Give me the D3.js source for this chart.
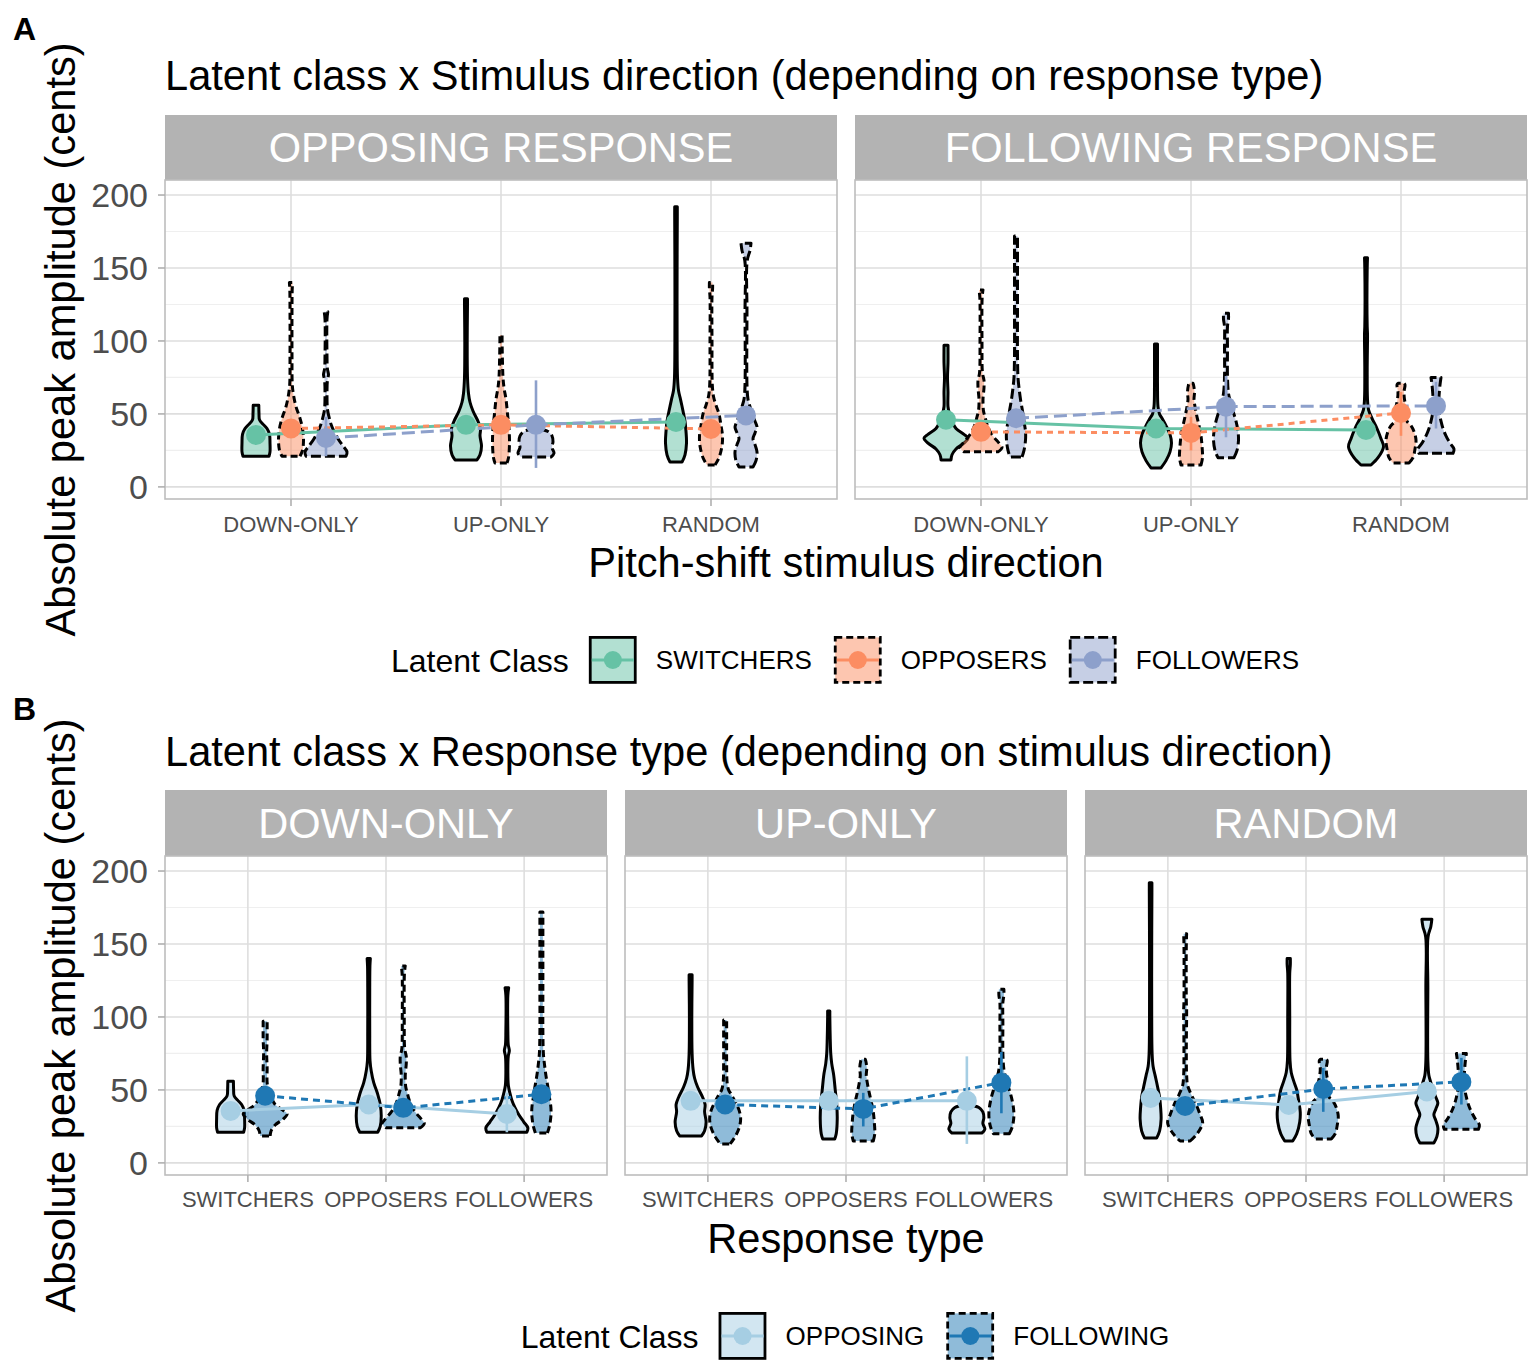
<!DOCTYPE html>
<html>
  <head>
    <meta charset="utf-8" />
    <style>
      body { margin: 0; background: #fff; }
      text { font-family: "Liberation Sans", Arial, Helvetica, sans-serif; }
    </style>
  </head>
  <body>

<svg id="graph"></svg>

<script src="https://d3js.org/d3.v7.min.js"></script>
<script>
  const WIDTH = 1537;
  const HEIGHT = 1367;

  const directions = ['DOWN-ONLY', 'UP-ONLY', 'RANDOM'];
  const classes = ['SWITCHERS', 'OPPOSERS', 'FOLLOWERS'];
  const responses = ['OPPOSING', 'FOLLOWING'];
  const yTicks = [0, 50, 100, 150, 200];
  const yMinor = [25, 75, 125, 175];

  // means, rows = direction, columns = class
  const meanOpposing = [[35.6, 40, 33.5], [42.5, 42.5, 42.5], [44.5, 39.7, 49]];
  const meanFollowing = [[46, 37.7, 47], [40, 37, 55], [39, 50.6, 55.5]];
  const lowOpposing = [[32, 36, 21], [38, 37, 13], [40, 35, 44]];
  const highOpposing = [[39, 44, 48], [47, 48, 73], [49, 45, 54]];
  const lowFollowing = [[42, 33, 41], [36, 25, 34], [35, 35, 40]];
  const highFollowing = [[50, 42, 53], [44, 48, 76], [43, 65, 72]];

  // violin outlines: [amplitude, density]  (rows = direction, columns = class)
  const violinOpposing = [
    [
      [[21,13],[24,14],[30,14],[36,13.5],[40,11],[43,7],[46,3.5],[50,3],[56,2.8]],
      [[21,9],[25,11.5],[32,12.5],[40,11.5],[47,9],[55,5],[63,2.5],[70,1.3],[90,1],[120,1],[135,1.2],[140,1.6]],
      [[21,20],[24,21],[28,17],[33,12],[38,8],[43,5],[48,3],[53,1.5],[62,1],[73,1.4],[77,2.5],[81,1.4],[90,1],[115,1],[120,1.8]]
    ],
    [
      [[18.5,11],[22,14],[28,15.5],[35,14],[40,14.5],[45,12],[52,7],[58,4],[64,2.5],[75,1.5],[100,1.2],[125,1.5],[129,1.5]],
      [[16.4,6],[20,7.5],[30,8.5],[40,8],[50,6.5],[60,5],[68,3],[75,2],[85,1.5],[100,1.1],[104,1.1]],
      [[20.5,15],[23,18],[27,16],[31,17],[35,16],[38,12],[39.5,5],[40.5,2]]
    ],
    [
      [[17,6],[22,9],[30,10.5],[38,10],[45,9],[52,7],[60,4.5],[66,2.5],[75,1.5],[100,1.1],[150,1.1],[185,1.3],[192,1.3]],
      [[15,4],[20,8],[28,11],[35,11.5],[42,10],[50,8],[56,5],[62,2.5],[70,1.3],[100,1],[130,1],[136,1.6],[140,1.6]],
      [[13.7,7],[18,10],[24,11],[29,9],[33,7],[37,9],[41,11],[45,9],[50,6],[55,4],[60,2],[70,1],[120,1],[155,1.2],[162,4],[167,5]]
    ]
  ];
  const violinFollowing = [
    [
      [[18.5,5],[22,6],[26,10],[30,18],[33.5,22],[36,18],[40,10],[45,6],[50,3.5],[55,2],[65,2],[75,1.5],[85,2],[95,2],[97,2]],
      [[24,17],[27,21],[30,18],[34,13],[38,9],[43,6],[48,4],[52,2.5],[60,2],[68,3],[73,3],[78,1.5],[100,1],[130,1.2],[135,2]],
      [[20.5,6],[25,8],[32,9.5],[38,9.5],[45,8],[52,6.5],[60,4.5],[68,3],[75,2],[90,1.5],[120,1.5],[150,1.5],[172,1.5]]
    ],
    [
      [[13,5],[18,10],[24,14],[30,15.5],[36,14],[42,10],[47,6],[50,3.5],[55,2],[70,1.5],[85,1.5],[98,1.5]],
      [[15,10],[20,11.5],[28,11],[35,10],[42,8],[48,6],[55,4],[60,3],[65,3.5],[70,2.5],[71,2]],
      [[20,8],[25,11],[32,12.5],[38,12],[45,10],[52,7],[58,4.5],[64,2.5],[75,1.5],[95,1.5],[110,1.5],[115,2.5],[119,2.5]]
    ],
    [
      [[15,5],[20,12],[27.5,17.5],[33,15],[40,11],[47,6],[53,2.5],[60,1.5],[80,1.2],[100,1.5],[105,1.5],[110,1.2],[150,1.2],[157,1.5]],
      [[16.4,8],[20,12],[26,14],[32,15],[38,13],[42,10],[45,6],[48,5],[52,6],[55,5],[60,3.5],[65,3],[70,4],[71,3]],
      [[23,17],[26,18],[30,14],[35,10],[40,7],[45,5],[50,3.5],[56,2.5],[62,3],[70,4],[75,5]]
    ]
  ];

  const classColors = ['#66C2A5', '#FC8D62', '#8DA0CB'];
  const responseColors = ['#A6CEE3', '#1F78B4'];

  const mean = [meanOpposing, meanFollowing];
  const low = [lowOpposing, lowFollowing];
  const high = [highOpposing, highFollowing];
  const violin = [violinOpposing, violinFollowing];

  const svg = d3.select('#graph').attr('width', WIDTH).attr('height', HEIGHT);
  svg.append('rect').attr('width', WIDTH).attr('height', HEIGHT).attr('fill', '#fff');

  const LEFT = 165, RIGHT = 1527, GAP = 18;
  const BIG = 41.6;
  const width = d3.scaleLinear().domain([0, 22]).range([0, 22]);

  const rows = [
    {
      label: 'A', labelY: 40, titleY: 90, stripTop: 115, panelTop: 180, panelBottom: 499,
      tickY: 532, xTitleY: 577, legendY: 660,
      title: 'Latent class x Stimulus direction (depending on response type)',
      xTitle: 'Pitch-shift stimulus direction',
      facets: responses.map(r => r + ' RESPONSE'), xCats: directions, groups: classes,
      cell: (f, x, g) => [f, x, g],
      colors: classColors,
      violinDash: [null, '7,4', '10,4'],
      lineDash: [null, '6,5', '13,6'],
      legend: classes
    },
    {
      label: 'B', labelY: 720, titleY: 766, stripTop: 790, panelTop: 856, panelBottom: 1175,
      tickY: 1207, xTitleY: 1253, legendY: 1336,
      title: 'Latent class x Response type (depending on stimulus direction)',
      xTitle: 'Response type',
      facets: directions, xCats: classes, groups: responses,
      cell: (f, x, g) => [g, f, x],
      colors: responseColors,
      violinDash: [null, '7,4'],
      lineDash: [null, '7,5'],
      legend: responses
    }
  ];

  function drawRow(row) {
    const n = row.facets.length;
    const pw = (RIGHT - LEFT - GAP * (n - 1)) / n;
    const y = d3.scaleLinear().domain([-8.3, 210.3]).range([row.panelBottom, row.panelTop]);

    svg.append('text').attr('x', 13).attr('y', row.labelY)
      .attr('font-size', 32).attr('font-weight', 'bold').text(row.label);
    svg.append('text').attr('x', LEFT).attr('y', row.titleY)
      .attr('font-size', BIG).attr('fill', '#000').text(row.title);

    row.facets.forEach((facet, fi) => {
      const x0 = LEFT + fi * (pw + GAP);
      const x = d3.scalePoint().domain(row.xCats).range([x0, x0 + pw]).padding(0.6);
      const dodge = d3.scaleBand().domain(row.groups)
        .range([-0.25 * x.step(), 0.25 * x.step()]);
      const pos = (xc, gr) => x(xc) + dodge(gr) + dodge.bandwidth() / 2;
      const g = svg.append('g');

      // strip
      g.append('rect').attr('x', x0).attr('y', row.stripTop)
        .attr('width', pw).attr('height', row.panelTop - row.stripTop).attr('fill', '#B3B3B3');
      g.append('text').attr('x', x0 + pw / 2).attr('y', (row.stripTop + row.panelTop) / 2 + 14.9)
        .attr('text-anchor', 'middle').attr('font-size', BIG).attr('fill', '#fff').text(facet);

      // grid
      g.selectAll('.minor').data(yMinor).join('line')
        .attr('x1', x0).attr('x2', x0 + pw).attr('y1', d => y(d)).attr('y2', d => y(d))
        .attr('stroke', '#EFEFEF').attr('stroke-width', 1.2);
      g.selectAll('.major').data(yTicks).join('line')
        .attr('x1', x0).attr('x2', x0 + pw).attr('y1', d => y(d)).attr('y2', d => y(d))
        .attr('stroke', '#DEDEDE').attr('stroke-width', 1.6);
      g.selectAll('.vmajor').data(row.xCats).join('line')
        .attr('x1', d => x(d)).attr('x2', d => x(d))
        .attr('y1', row.panelTop).attr('y2', row.panelBottom)
        .attr('stroke', '#DEDEDE').attr('stroke-width', 1.6);

      // violins
      row.xCats.forEach((xc, xi) => {
        row.groups.forEach((gr, gi) => {
          const [r, d, c] = row.cell(fi, xi, gi);
          const cx = pos(xc, gr);
          const area = d3.area()
            .y(p => y(p[0]))
            .x0(p => cx - width(p[1]))
            .x1(p => cx + width(p[1]))
            .curve(d3.curveCatmullRom.alpha(0.5));
          g.append('path').attr('d', area(violin[r][d][c]))
            .attr('fill', row.colors[gi]).attr('fill-opacity', 0.5)
            .attr('stroke', '#000').attr('stroke-width', 3)
            .attr('stroke-linejoin', 'round')
            .attr('stroke-dasharray', row.violinDash[gi]);
        });
      });

      // mean lines
      row.groups.forEach((gr, gi) => {
        const pts = row.xCats.map((xc, xi) => {
          const [r, d, c] = row.cell(fi, xi, gi);
          return [pos(xc, gr), mean[r][d][c]];
        });
        g.append('path')
          .attr('d', d3.line().x(p => p[0]).y(p => y(p[1]))(pts))
          .attr('fill', 'none').attr('stroke', row.colors[gi]).attr('stroke-width', 3)
          .attr('stroke-dasharray', row.lineDash[gi]);
      });

      // point ranges
      row.xCats.forEach((xc, xi) => {
        row.groups.forEach((gr, gi) => {
          const [r, d, c] = row.cell(fi, xi, gi);
          const cx = pos(xc, gr);
          g.append('line').attr('x1', cx).attr('x2', cx)
            .attr('y1', y(low[r][d][c])).attr('y2', y(high[r][d][c]))
            .attr('stroke', row.colors[gi]).attr('stroke-width', 2.6);
          g.append('circle').attr('cx', cx).attr('cy', y(mean[r][d][c])).attr('r', 10)
            .attr('fill', row.colors[gi]);
        });
      });

      // border
      g.append('rect').attr('x', x0).attr('y', row.panelTop)
        .attr('width', pw).attr('height', row.panelBottom - row.panelTop)
        .attr('fill', 'none').attr('stroke', '#BDBDBD').attr('stroke-width', 1.6);

      // x axis
      g.selectAll('.xt').data(row.xCats).join('line')
        .attr('x1', d => x(d)).attr('x2', d => x(d))
        .attr('y1', row.panelBottom).attr('y2', row.panelBottom + 7)
        .attr('stroke', '#B0B0B0').attr('stroke-width', 1.6);
      g.selectAll('.xl').data(row.xCats).join('text')
        .attr('x', d => x(d)).attr('y', row.tickY)
        .attr('text-anchor', 'middle').attr('font-size', 22).attr('fill', '#4D4D4D')
        .text(d => d);

      // y axis
      if (fi === 0) {
        g.selectAll('.yt').data(yTicks).join('line')
          .attr('x1', x0 - 7).attr('x2', x0).attr('y1', d => y(d)).attr('y2', d => y(d))
          .attr('stroke', '#B0B0B0').attr('stroke-width', 1.6);
        g.selectAll('.yl').data(yTicks).join('text')
          .attr('x', 148).attr('y', d => y(d) + 12.2)
          .attr('text-anchor', 'end').attr('font-size', 34).attr('fill', '#4D4D4D')
          .text(d => d);
      }
    });

    // axis titles
    svg.append('text')
      .attr('transform', `translate(75,${(row.panelTop + row.panelBottom) / 2}) rotate(-90)`)
      .attr('text-anchor', 'middle').attr('font-size', BIG).text('Absolute peak amplitude (cents)');
    svg.append('text').attr('x', (LEFT + RIGHT) / 2).attr('y', row.xTitleY)
      .attr('text-anchor', 'middle').attr('font-size', BIG).text(row.xTitle);

    // legend
    const lg = svg.append('g');
    const t = lg.append('text').attr('x', 0).attr('y', row.legendY + 11.5)
      .attr('font-size', 32).text('Latent Class');
    let cx = t.node().getComputedTextLength() + 20;
    row.legend.forEach((name, gi) => {
      const k = lg.append('g').attr('transform', `translate(${cx},${row.legendY - 24})`);
      k.append('rect').attr('x', 1.4).attr('y', 1.4).attr('width', 45).attr('height', 45)
        .attr('fill', row.colors[gi]).attr('fill-opacity', 0.5)
        .attr('stroke', '#000').attr('stroke-width', 2.8)
        .attr('stroke-dasharray', row.violinDash[gi]);
      k.append('line').attr('x1', 3).attr('x2', 45).attr('y1', 24).attr('y2', 24)
        .attr('stroke', row.colors[gi]).attr('stroke-width', 3);
      k.append('circle').attr('cx', 24).attr('cy', 24).attr('r', 9).attr('fill', row.colors[gi]);
      const lab = lg.append('text').attr('x', cx + 48 + 19).attr('y', row.legendY + 9.3)
        .attr('font-size', 26).text(name);
      cx += 48 + 19 + lab.node().getComputedTextLength() + 22;
    });
    const total = cx - 22;
    lg.attr('transform', `translate(${845 - total / 2},0)`);
  }

  rows.forEach(drawRow);
</script>
  </body>
</html>
